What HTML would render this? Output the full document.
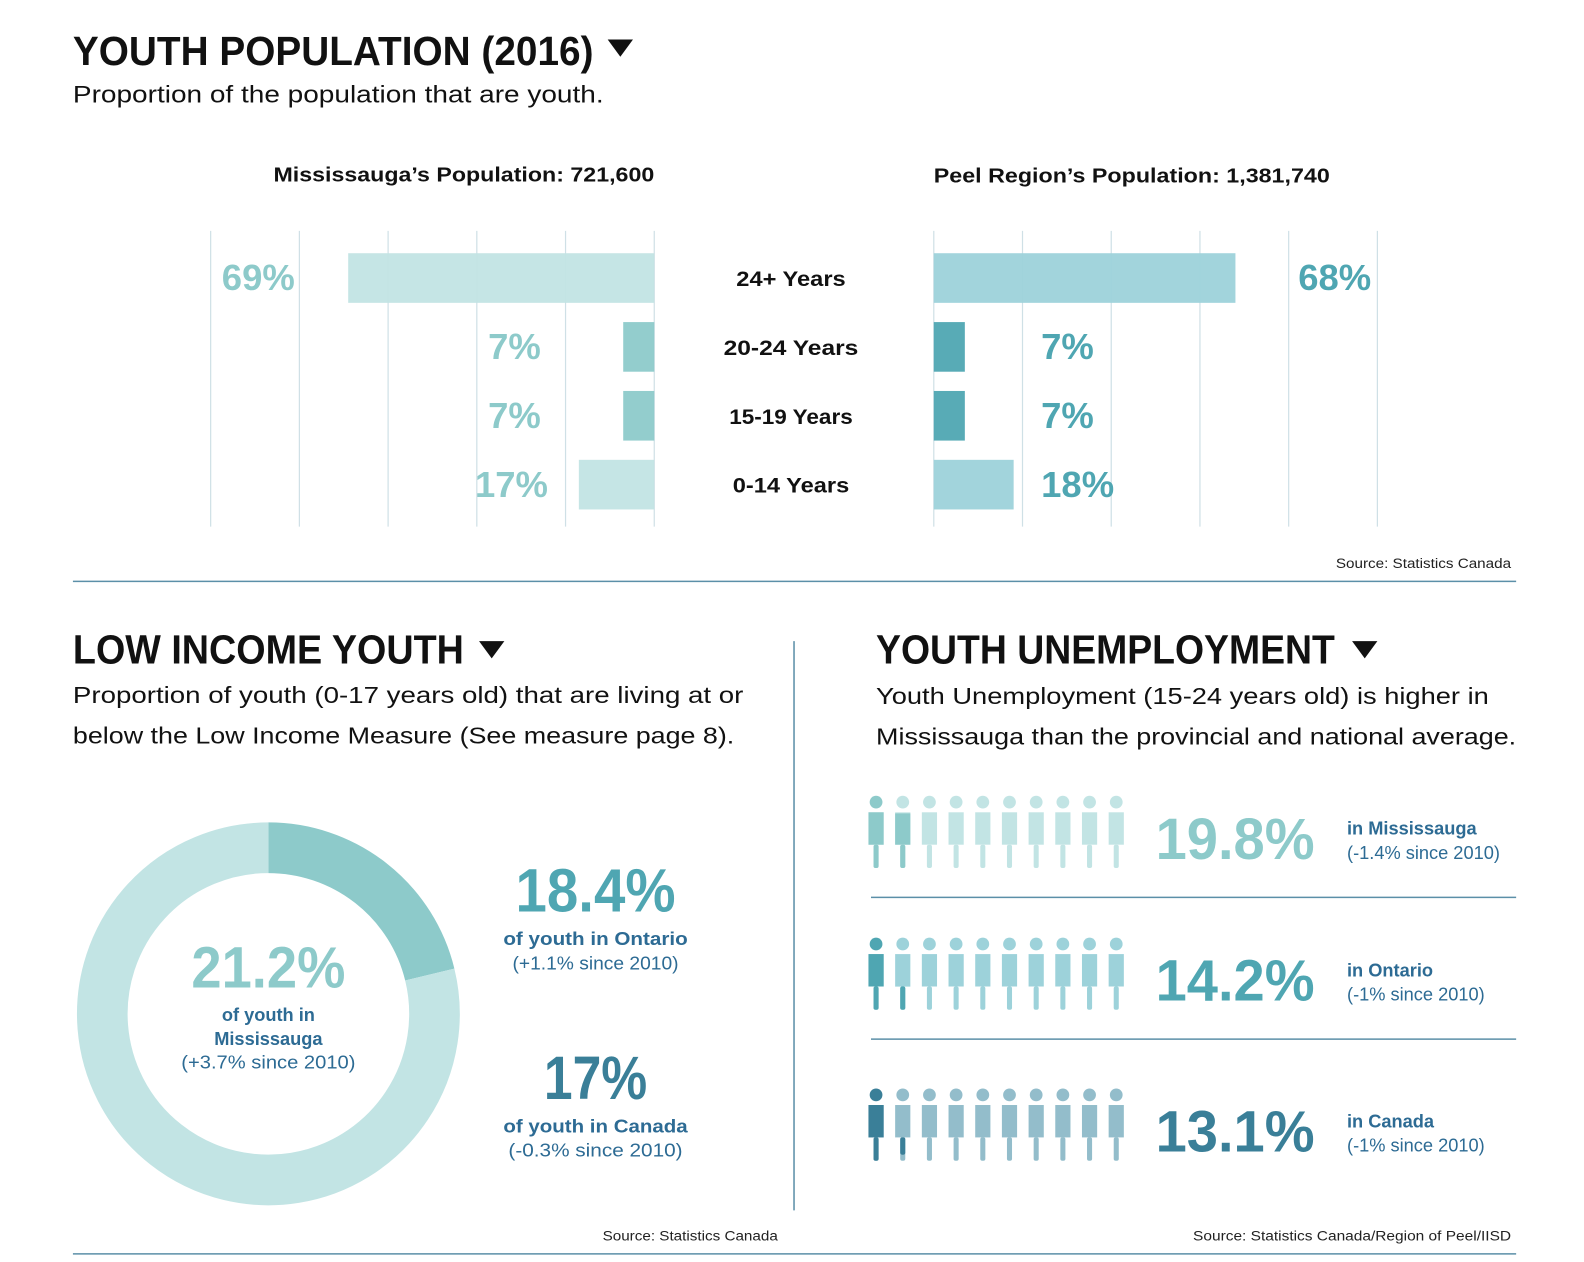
<!DOCTYPE html>
<html><head><meta charset="utf-8"><style>
html,body{margin:0;padding:0;background:#fff;width:1584px;height:1262px;overflow:hidden}
svg{display:block}
text{font-family:"Liberation Sans",sans-serif}
</style></head><body>
<svg id="root" width="1584" height="1262" viewBox="0 0 1564 1246" preserveAspectRatio="none" xmlns="http://www.w3.org/2000/svg">
<g>
<text x="72" y="64" font-size="40" font-weight="bold" textLength="514" lengthAdjust="spacingAndGlyphs" fill="#111">YOUTH POPULATION (2016)</text>
<polygon points="600,39 625,39 612.5,56" fill="#111"/>
<text x="72" y="101" font-size="24" textLength="524" lengthAdjust="spacingAndGlyphs" fill="#111">Proportion of the population that are youth.</text>
<text x="270" y="179" font-size="20" font-weight="bold" textLength="376" lengthAdjust="spacingAndGlyphs" fill="#111">Mississauga’s Population: 721,600</text>
<text x="922" y="180" font-size="20" font-weight="bold" textLength="391" lengthAdjust="spacingAndGlyphs" fill="#111">Peel Region’s Population: 1,381,740</text>
<g id="barchart"></g>
<text x="1492" y="561" font-size="14" text-anchor="end" textLength="173" lengthAdjust="spacingAndGlyphs" fill="#222">Source: Statistics Canada</text>
<line x1="72" y1="574" x2="1497" y2="574" stroke="#5b8fa8" stroke-width="1.5"/>
</g>
<line x1="784" y1="633" x2="784" y2="1195" stroke="#5b8fa8" stroke-width="1.5"/>
<g>
<text x="72" y="655" font-size="40" font-weight="bold" textLength="386" lengthAdjust="spacingAndGlyphs" fill="#111">LOW INCOME YOUTH</text>
<polygon points="473,633 498,633 485.5,650" fill="#111"/>
<text x="72" y="694" font-size="23" textLength="662" lengthAdjust="spacingAndGlyphs" fill="#111">Proportion of youth (0-17 years old) that are living at or</text>
<text x="72" y="734" font-size="23" textLength="653" lengthAdjust="spacingAndGlyphs" fill="#111">below the Low Income Measure (See measure page 8).</text>
<g id="donut"></g>
<text x="265" y="975" font-size="58" font-weight="bold" text-anchor="middle" textLength="152" lengthAdjust="spacingAndGlyphs" fill="#8dcaca">21.2%</text>
<text x="265" y="1008" font-size="18" font-weight="bold" text-anchor="middle" fill="#2d6b94">of youth in</text>
<text x="265" y="1032" font-size="18" font-weight="bold" text-anchor="middle" fill="#2d6b94">Mississauga</text>
<text x="265" y="1055" font-size="18" text-anchor="middle" textLength="172" lengthAdjust="spacingAndGlyphs" fill="#2d6b94">(+3.7% since 2010)</text>
<text x="588" y="900" font-size="60" font-weight="bold" text-anchor="middle" textLength="158" lengthAdjust="spacingAndGlyphs" fill="#4fa6b2">18.4%</text>
<text x="588" y="933" font-size="18" font-weight="bold" text-anchor="middle" textLength="182" lengthAdjust="spacingAndGlyphs" fill="#2d6b94">of youth in Ontario</text>
<text x="588" y="957" font-size="18" text-anchor="middle" textLength="164" lengthAdjust="spacingAndGlyphs" fill="#2d6b94">(+1.1% since 2010)</text>
<text x="588" y="1085" font-size="60" font-weight="bold" text-anchor="middle" textLength="102" lengthAdjust="spacingAndGlyphs" fill="#3a7f98">17%</text>
<text x="588" y="1118" font-size="18" font-weight="bold" text-anchor="middle" textLength="182" lengthAdjust="spacingAndGlyphs" fill="#2d6b94">of youth in Canada</text>
<text x="588" y="1142" font-size="18" text-anchor="middle" textLength="172" lengthAdjust="spacingAndGlyphs" fill="#2d6b94">(-0.3% since 2010)</text>
<text x="768" y="1225" font-size="14" text-anchor="end" textLength="173" lengthAdjust="spacingAndGlyphs" fill="#222">Source: Statistics Canada</text>
</g>
<g>
<text x="865" y="655" font-size="40" font-weight="bold" textLength="453" lengthAdjust="spacingAndGlyphs" fill="#111">YOUTH UNEMPLOYMENT</text>
<polygon points="1335,633 1360,633 1347.5,650" fill="#111"/>
<text x="865" y="695" font-size="23" textLength="605" lengthAdjust="spacingAndGlyphs" fill="#111">Youth Unemployment (15-24 years old) is higher in</text>
<text x="865" y="735" font-size="23" textLength="632" lengthAdjust="spacingAndGlyphs" fill="#111">Mississauga than the provincial and national average.</text>
<g id="people"></g>
<text x="1492" y="1225" font-size="14" text-anchor="end" textLength="314" lengthAdjust="spacingAndGlyphs" fill="#222">Source: Statistics Canada/Region of Peel/IISD</text>
</g>
<line x1="72" y1="1238" x2="1497" y2="1238" stroke="#5b8fa8" stroke-width="1.5"/>
</svg>
<script>
const NS='http://www.w3.org/2000/svg';
// population bar chart data
const ageGroups=['24+ Years','20-24 Years','15-19 Years','0-14 Years'];
const mississaugaPct=[69,7,7,17];
const peelPct=[68,7,7,18];
const mississaugaLabels=['69%','7%','7%','17%'];
const peelLabels=['68%','7%','7%','18%'];
// donut data
const donutCategories=['Low income youth','Other youth'];
const donutValues=[21.2,78.8];
// unemployment data
const unempRegions=['in Mississauga','in Ontario','in Canada'];
const unempRates=[19.8,14.2,13.1];
const unempLabels=['19.8%','14.2%','13.1%'];
const unempChanges=['(-1.4% since 2010)','(-1% since 2010)','(-1% since 2010)'];

function mk(tag,attrs,parent,txt){const e=document.createElementNS(NS,tag);for(const k in attrs)e.setAttribute(k,attrs[k]);if(txt!=null)e.textContent=txt;parent.appendChild(e);return e;}

// ---- bar chart ----
const bc=document.getElementById('barchart');
const pxPerPct=4.38, leftAxis=646, rightAxis=922;
const xL=v=>leftAxis-v*pxPerPct, xR=v=>rightAxis+v*pxPerPct;
const rowY=i=>250+i*68, barH=49;
[0,20,40,60,80,100].forEach(t=>{
  let a=mk('line',{x1:leftAxis-t*4.38,y1:228,x2:leftAxis-t*4.38,y2:520,stroke:'#cfe0e6','stroke-width':1.2},bc);
  
  let b=mk('line',{x1:rightAxis+t*4.38,y1:228,x2:rightAxis+t*4.38,y2:520,stroke:'#cfe0e6','stroke-width':1.2},bc);
  
});
const lCols=['#c2e4e4','#8dcaca','#8dcaca','#c2e4e4'];
const rCols=['#9dd2da','#4fa6b2','#4fa6b2','#9dd2da'];
const centerLens=[108,133,122,115];
ageGroups.forEach((g,i)=>{
  const y=rowY(i), ty=y+barH/2+12;
  let r1=mk('rect',{x:xL(mississaugaPct[i]),y:y,width:mississaugaPct[i]*pxPerPct,height:barH,fill:lCols[i],opacity:0.95},bc);
  
  let r2=mk('rect',{x:rightAxis,y:y,width:peelPct[i]*pxPerPct,height:barH,fill:rCols[i],opacity:0.95},bc);
  
  let c=mk('text',{x:781,y:y+barH/2+8,'font-size':21,'font-weight':'bold','text-anchor':'middle',fill:'#111',textLength:centerLens[i],lengthAdjust:'spacingAndGlyphs'},bc,g);
  
  let lx,la;
  if(i===0){lx=219;la='start';} else {lx=Math.min(xL(mississaugaPct[i])-30, 541);la='end';}
  if(i>0&&mississaugaPct[i]<10) lx=Math.min(lx,534);
  let t1=mk('text',{x:lx,y:ty,'font-size':36,'font-weight':'bold','text-anchor':la,fill:'#8dcaca'},bc,mississaugaLabels[i]);
  
  let rx=i===0?xR(peelPct[i])+62:Math.max(xR(peelPct[i])+18,1028);
  let t2=mk('text',{x:rx,y:ty,'font-size':36,'font-weight':'bold','text-anchor':'start',fill:'#4fa6b2'},bc,peelLabels[i]);
  
});

// ---- donut ----
const dn=document.getElementById('donut');
const cx=265,cy=1001,R=164,W=50;
const total=donutValues.reduce((a,b)=>a+b,0);
const dCols=['#8dcaca','#c2e4e4'];
let acc=0;
donutValues.forEach((v,i)=>{
  const a0=acc/total*2*Math.PI, a1=(acc+v)/total*2*Math.PI; acc+=v;
  const p=a=>[cx+R*Math.sin(a),cy-R*Math.cos(a)];
  const [x0,y0]=p(a0),[x1,y1]=p(a1);
  const large=(a1-a0)>Math.PI?1:0;
  let s=mk('path',{d:`M${x0},${y0} A${R},${R} 0 ${large} 1 ${x1},${y1}`,fill:'none',stroke:dCols[i],'stroke-width':W},dn);
  
});

// ---- pictogram ----
const pp=document.getElementById('people');
const filled=['#8dcaca','#4fa6b2','#3a7f98'], empty=['#c2e4e4','#9dd2da','#93bdcb'];
const rowTop=[781,921,1070];
unempRates.forEach((rate,r)=>{
  const top=rowTop[r], units=rate/10;
  for(let k=0;k<10;k++){
    const pxc=865+k*26.35;
    const frac=Math.max(0,Math.min(1,units-k));
    const g=mk('g',{},pp);
    
    
    const headC=frac>=1?filled[r]:empty[r];
    mk('circle',{cx:pxc,cy:top+11,r:6.3,fill:headC},g);
    mk('rect',{x:pxc-7.5,y:top+21,width:15,height:32,fill:empty[r]},g);
    mk('rect',{x:pxc-2.5,y:top+53,width:5,height:23,rx:2,fill:empty[r]},g);
    if(frac>0){
      const h=55*frac;
      const legH=Math.min(23,h), bodyH=Math.max(0,h-23);
      mk('rect',{x:pxc-2.5,y:top+53,width:5,height:legH,rx:2,fill:filled[r]},g);
      if(bodyH>0) mk('rect',{x:pxc-7.5,y:top+53-bodyH,width:15,height:bodyH,fill:filled[r]},g);
    }
  }
  const v=mk('text',{x:1141,y:top+67,'font-size':58,'font-weight':'bold',fill:filled[r],textLength:157,lengthAdjust:'spacingAndGlyphs'},pp,unempLabels[r]);
  
  const l=mk('text',{x:1330,y:top+43,'font-size':18,'font-weight':'bold',fill:'#2d6b94'},pp,unempRegions[r]);
  
  const c=mk('text',{x:1330,y:top+67,'font-size':18,fill:'#2d6b94'},pp,unempChanges[r]);
  
  if(r<2){
    const sl=mk('line',{x1:860,y1:rowTop[r]+105,x2:1497,y2:rowTop[r]+105,stroke:'#5b8fa8','stroke-width':1.5},pp);
    
  }
});
</script>
</body></html>
